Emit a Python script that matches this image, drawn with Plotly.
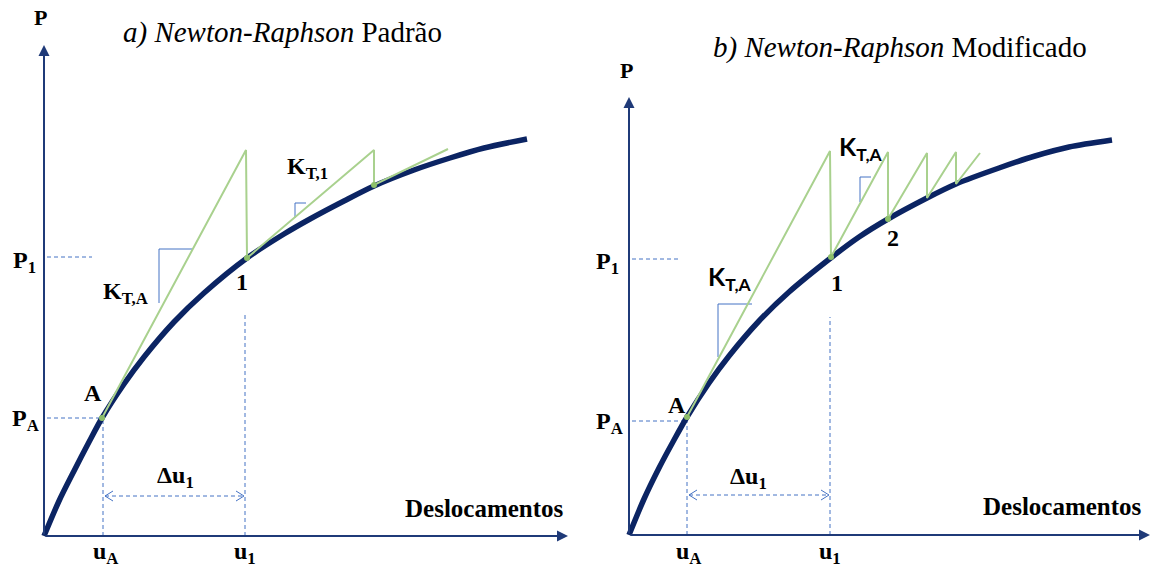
import plotly.graph_objects as go

# ---------------- data (diagram units: u = displacement, P = load; origin at axis crossing)
# panel a) Newton-Raphson padrão
curve_a_u = [0, 15, 30, 45, 58, 80, 100, 130, 160, 203, 240, 266, 300, 330, 370, 406, 440, 483]
curve_a_p = [0, 35, 65, 94, 118, 152, 179, 214, 243, 278, 302, 317, 335, 350, 366, 378, 388, 397]
iter_a_u = [58, 202, 203, 330, 330, 404]
iter_a_p = [118, 386, 278, 386, 351, 387]
conv_a_u = [58, 203, 330]
conv_a_p = [118, 278, 351]
tri_a1_u = [115, 115, 149]          # slope mark K_T,A
tri_a1_p = [233, 287, 287]
tri_a2_u = [251, 251, 262]          # slope mark K_T,1
tri_a2_p = [318, 333, 333]
uA_a, u1_a, PA_a, P1_a = 59, 201, 118, 279

# panel b) Newton-Raphson modificado
curve_b_u = [0, 15, 30, 45, 58, 80, 100, 130, 160, 203, 230, 259, 298, 327, 370, 406, 440, 483]
curve_b_p = [0, 36, 67, 95, 118, 152, 179, 214, 243, 278, 298, 316, 337, 351, 367, 379, 388, 395]
iter_b_u = [58, 201, 202, 259, 259, 298, 298, 327, 327, 351]
iter_b_p = [118, 384, 278, 383, 316, 382, 337, 383, 351, 382]
conv_b_u = [58, 202, 259]
conv_b_p = [118, 278, 316]
tri_b1_u = [89, 89, 123]
tri_b1_p = [178, 231, 231]
tri_b2_u = [231, 231, 242]
tri_b2_p = [333, 358, 358]
uA_b, u1_b, PA_b, P1_b = 58, 201, 114, 276

# ---------------- styles
NAVY = "#0B2463"
AXC = "#1F3A78"
GREEN = "#A9D18E"
DASH = "#4472C4"
SERIF = "Liberation Serif"
SANS = "Lato"
LS = 24  # label size

fig = go.Figure()


def add_panel(xa, ya, cu, cp, iu, ip, t1u, t1p, t2u, t2p, uA, u1, PA, P1, p1_len, u1_top):
    kw = dict(xaxis=xa, yaxis=ya, hoverinfo="skip", showlegend=False, cliponaxis=False)
    # dashed reference lines
    for xs, ys in [([3, uA], [PA, PA]), ([3, p1_len], [P1, P1]),
                   ([uA, uA], [0, PA]), ([u1, u1], [0, u1_top]),
                   ([uA + 2, u1 - 1], [40, 40])]:
        fig.add_trace(go.Scatter(x=xs, y=ys, mode="lines",
                                 line=dict(color=DASH, width=1, dash="4px,3px"), **kw))
    # chevron heads of the delta-u arrow
    for tip, d in [(uA + 2, 1), (u1 - 1, -1)]:
        fig.add_trace(go.Scatter(x=[tip + 8 * d, tip, tip + 8 * d], y=[45, 40, 35], mode="lines",
                                 line=dict(color=DASH, width=1), **kw))
    # slope triangles
    for tu, tp in [(t1u, t1p), (t2u, t2p)]:
        fig.add_trace(go.Scatter(x=tu, y=tp, mode="lines", line=dict(color=DASH, width=1), **kw))
    # main curve
    fig.add_trace(go.Scatter(x=cu, y=cp, mode="lines",
                             line=dict(color=NAVY, width=5.5, shape="spline", smoothing=0.8), **kw))
    # iterations
    fig.add_trace(go.Scatter(x=iu, y=ip, mode="lines", line=dict(color=GREEN, width=2), **kw))


add_panel("x", "y", curve_a_u, curve_a_p, iter_a_u, iter_a_p,
          tri_a1_u, tri_a1_p, tri_a2_u, tri_a2_p, uA_a, u1_a, PA_a, P1_a, 48, 221)
add_panel("x2", "y2", curve_b_u, curve_b_p, iter_b_u, iter_b_p,
          tri_b1_u, tri_b1_p, tri_b2_u, tri_b2_p, uA_b, u1_b, PA_b, P1_b, 49, 218)

fig.add_trace(go.Scatter(x=conv_a_u, y=conv_a_p, mode="markers", xaxis="x", yaxis="y",
                         marker=dict(color="#8DBF6A", size=6), hoverinfo="skip", showlegend=False))
fig.add_trace(go.Scatter(x=conv_b_u, y=conv_b_p, mode="markers", xaxis="x2", yaxis="y2",
                         marker=dict(color="#8DBF6A", size=6), hoverinfo="skip", showlegend=False))

ann = []


def arrow(xr, yr, x, y):
    ann.append(dict(x=x, y=y, ax=0, ay=0, xref=xr, yref=yr, axref=xr, ayref=yr, text="",
                    showarrow=True, arrowhead=2, arrowsize=1.1, arrowwidth=2, arrowcolor=AXC, standoff=0))


arrow("x", "y", 524, 0)
arrow("x", "y", 0, 491)
arrow("x2", "y2", 521, 0)
arrow("x2", "y2", 0, 438)


def lab(xr, yr, x, y, text, size=LS, family=SERIF):
    ann.append(dict(x=x, y=y, xref=xr, yref=yr, text=text, showarrow=False,
                    font=dict(family=family, size=size, color="black"), xanchor="center", yanchor="middle"))


# panel a labels
lab("x", "y", 238, 504, "<i>a) Newton-Raphson</i> Padrão", size=29)
lab("x", "y", -4, 519, "<b>P</b>", size=22)
lab("x", "y", -20, 274, "<b>P<sub>1</sub></b>")
lab("x", "y", -19, 116, "<b>P<sub>A</sub></b>")
lab("x", "y", 49, 143, "<b>A</b>")
lab("x", "y", 198, 254, "<b>1</b>")
lab("x", "y", 61, -17, "<b>u<sub>A</sub></b>")
lab("x", "y", 201, -17, "<b>u<sub>1</sub></b>")
lab("x", "y", 131, 59, "<b>Δu<sub>1</sub></b>")
lab("x", "y", 440, 28, "<b>Deslocamentos</b>", size=25)
lab("x", "y", 81, 243, "<b>K<sub>T,A</sub></b>")
lab("x", "y", 263, 368, "<b>K<sub>T,1</sub></b>")

# panel b labels
lab("x2", "y2", 271, 488, "<i>b) Newton-Raphson</i> Modificado", size=29)
lab("x2", "y2", -3, 465, "<b>P</b>", size=22)
lab("x2", "y2", -22, 272, "<b>P<sub>1</sub></b>")
lab("x2", "y2", -20, 112, "<b>P<sub>A</sub></b>")
lab("x2", "y2", 48, 130, "<b>A</b>")
lab("x2", "y2", 208, 252, "<b>1</b>")
lab("x2", "y2", 264, 297, "<b>2</b>")
lab("x2", "y2", 59, -18, "<b>u<sub>A</sub></b>")
lab("x2", "y2", 201, -18, "<b>u<sub>1</sub></b>")
lab("x2", "y2", 119, 57, "<b>Δu<sub>1</sub></b>")
lab("x2", "y2", 433, 29, "<b>Deslocamentos</b>", size=25)
lab("x2", "y2", 101, 257, "<b>K<sub>T,A</sub></b>", size=25, family=SANS)
lab("x2", "y2", 232, 387, "<b>K<sub>T,A</sub></b>", size=25, family=SANS)

ax_common = dict(visible=False, showgrid=False, zeroline=False, fixedrange=True)
fig.update_layout(
    width=1154, height=567,
    margin=dict(l=0, r=0, t=0, b=0),
    paper_bgcolor="white", plot_bgcolor="white",
    xaxis=dict(domain=[0, 0.5], range=[-44, 533], **ax_common),
    yaxis=dict(domain=[0, 1], range=[-31, 536], **ax_common),
    xaxis2=dict(domain=[0.5, 1], range=[-52, 525], anchor="y2", **ax_common),
    yaxis2=dict(domain=[0, 1], range=[-32, 535], anchor="x2", **ax_common),
    annotations=ann,
)

fig.write_html("out.html", config={"displayModeBar": False},
               post_script="document.body.style.margin='0';document.body.style.overflow='hidden';")
